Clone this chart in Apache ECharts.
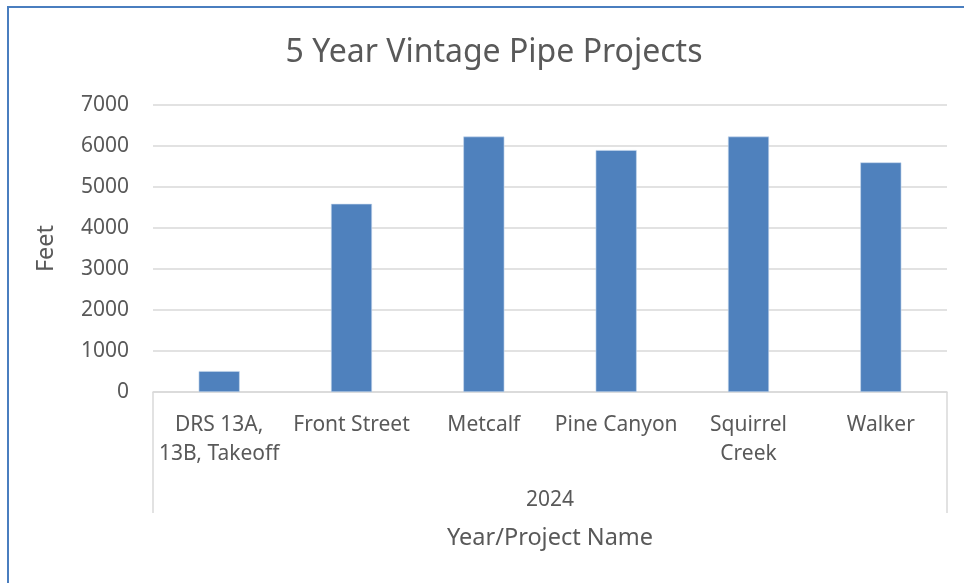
<!DOCTYPE html>
<html>
<head>
<meta charset="utf-8">
<script src="https://cdn.jsdelivr.net/npm/echarts@6/dist/echarts.min.js"></script>
<style>
  html, body { margin: 0; padding: 0; background: #fff; }
  #frame { position: absolute; left: 7px; top: 6px; width: 1000px; height: 640px; border: 2px solid #4a7ebf; box-sizing: border-box; }
  #chart { position: absolute; left: 0; top: 0; width: 964px; height: 583px; }
</style>
</head>
<body>
<div id="frame"></div>
<div id="chart"></div>
<script>
// chart data
const projects = ['DRS 13A,\n13B, Takeoff', 'Front Street', 'Metcalf', 'Pine Canyon', 'Squirrel\nCreek', 'Walker'];
const years = ['2024'];
const feet = [510, 4590, 6230, 5900, 6230, 5600];
const yTicks = { min: 0, max: 7000, step: 1000 };

const txt = '#595959';
const grey = '#d9d9d9';
const font = '"Noto Sans", "Open Sans", sans-serif';

const chart = echarts.init(document.getElementById('chart'));
chart.setOption({
  animation: false,
  title: {
    text: '5 Year Vintage Pipe Projects',
    left: 489,
    top: 32,
    textAlign: 'center',
    textStyle: { color: txt, fontSize: 32, fontWeight: 'normal', fontFamily: font }
  },
  grid: { left: 153, right: 17, top: 105, bottom: 191, containLabel: false },
  xAxis: [
    {
      type: 'category',
      data: projects,
      axisLine: { lineStyle: { color: grey, width: 1.5 } },
      axisTick: { show: false },
      axisLabel: { color: txt, fontSize: 21, fontFamily: font, lineHeight: 29, margin: 19, interval: 0 }
    },
    {
      type: 'category',
      data: years,
      position: 'bottom',
      axisLine: { show: false },
      axisTick: { show: true, length: 121, lineStyle: { color: grey, width: 1.5 } },
      axisLabel: { color: txt, fontSize: 21, fontFamily: font, lineHeight: 29, margin: 94 },
      name: 'Year/Project Name',
      nameLocation: 'middle',
      nameGap: 134,
      nameTextStyle: { color: txt, fontSize: 23.5, fontFamily: font }
    }
  ],
  yAxis: {
    type: 'value',
    min: yTicks.min,
    max: yTicks.max,
    interval: yTicks.step,
    axisLine: { show: false },
    axisTick: { show: false },
    splitLine: { lineStyle: { color: grey, width: 1.5 } },
    axisLabel: { color: txt, fontSize: 21, fontFamily: font, margin: 24, formatter: v => String(v) },
    name: 'Feet',
    nameLocation: 'middle',
    nameGap: 95,
    nameTextStyle: { color: txt, fontSize: 23.5, fontFamily: font }
  },
  series: [
    {
      type: 'bar',
      xAxisIndex: 0,
      data: feet,
      barWidth: '31%',
      itemStyle: { color: '#4f81bd', borderColor: '#c6d7ec', borderWidth: 0.6 }
    }
  ]
});
</script>
</body>
</html>
